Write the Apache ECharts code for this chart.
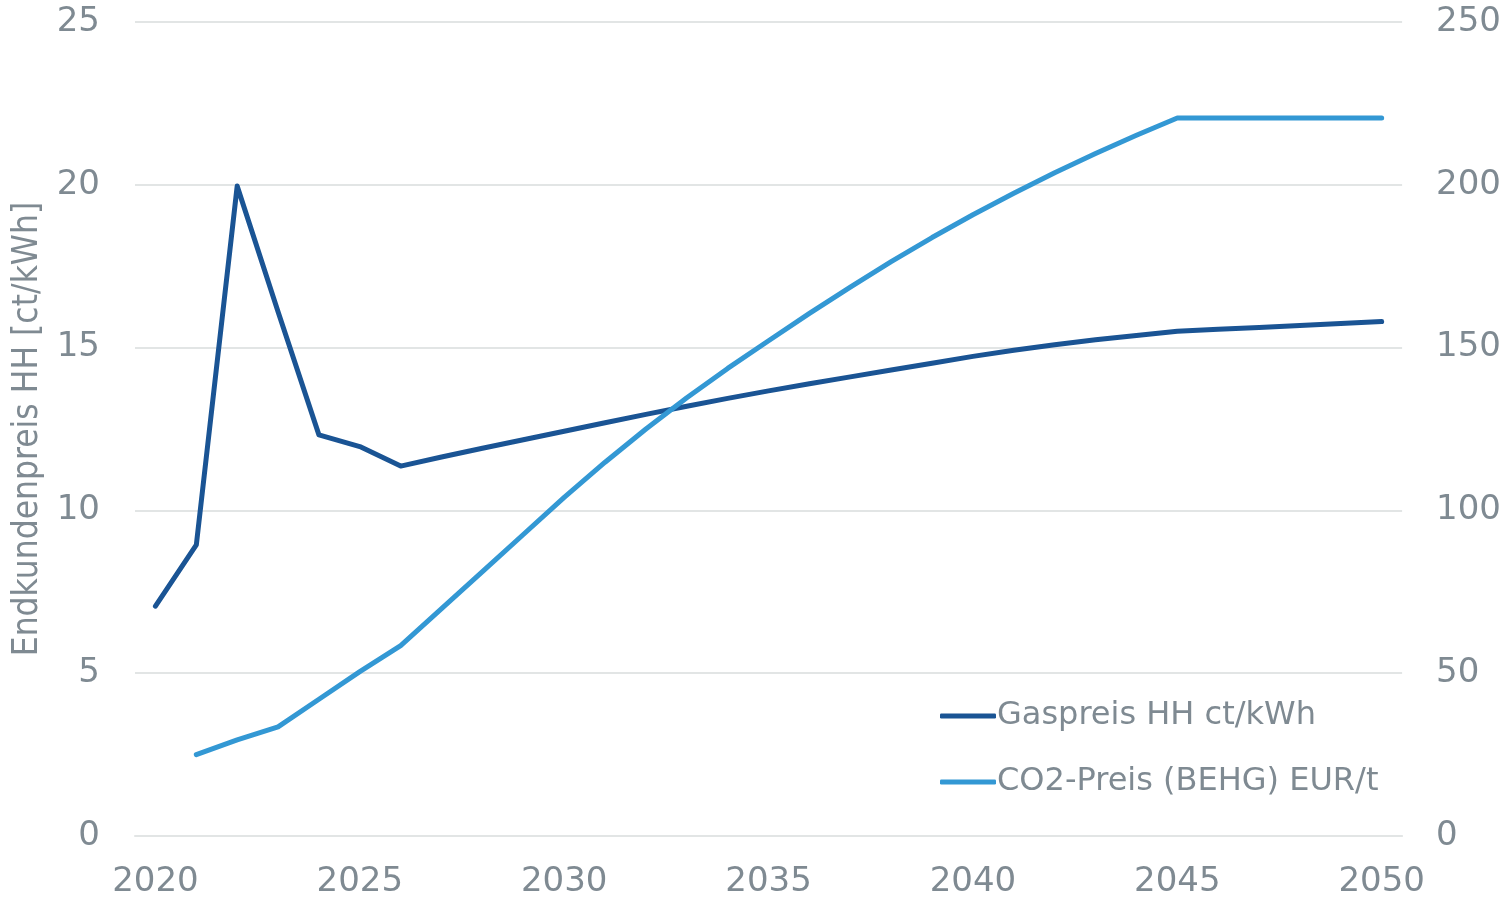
<!DOCTYPE html>
<html>
<head>
<meta charset="utf-8">
<script src="https://cdn.jsdelivr.net/npm/echarts@6/dist/echarts.min.js"></script>
<style>
  html, body { margin: 0; padding: 0; background: #fff; }
  #chart { width: 1504px; height: 899px; }
</style>
</head>
<body>
<div id="chart"></div>
<script>
// Jahre
const years = []
for (let y = 2020; y <= 2050; y++) years.push(String(y))

// Gaspreis HH ct/kWh (linke Achse)
const gasPrice = [7.06, 8.94, 19.96, 16.1, 12.32, 11.96, 11.36, 11.64, 11.91, 12.17, 12.43,
  12.69, 12.95, 13.2, 13.44, 13.67, 13.89, 14.1, 14.31, 14.52, 14.73,
  14.92, 15.09, 15.24, 15.37, 15.5, 15.56, 15.62, 15.68, 15.74, 15.8]

// CO2-Preis (BEHG) EUR/t (rechte Achse), 2020 ohne Wert
const co2Price = [null, 25, 29.5, 33.5, 42, 50.5, 58.5, 69.8, 81.2, 92.6, 104,
  114.8, 125, 134.6, 143.6, 152.1, 160.5, 168.6, 176.4, 183.8, 190.8,
  197.4, 203.7, 209.6, 215.2, 220.5, 220.5, 220.5, 220.5, 220.5, 220.5]

const seriesNames = ['Gaspreis HH ct/kWh', 'CO2-Preis (BEHG) EUR/t']

const grey = '#7f8a92'
const gridColor = '#e2e5e5'
const font = 'DejaVu Sans'

const chart = echarts.init(document.getElementById('chart'))
chart.setOption({
  animation: false,
  grid: { left: 135, right: 101, top: 22, bottom: 63 },
  legend: {
    orient: 'vertical',
    left: 935,
    top: 695,
    itemWidth: 56,
    itemHeight: 5,
    itemGap: 34,
    icon: 'roundRect',
    textStyle: { color: grey, fontSize: 32, fontFamily: font, padding: [0, 0, 0, -4] },
    data: seriesNames
  },
  xAxis: {
    type: 'category',
    data: years,
    boundaryGap: true,
    axisLine: { show: true, lineStyle: { color: gridColor, width: 2 } },
    axisTick: { show: false },
    axisLabel: { interval: 4, color: grey, fontSize: 34, fontFamily: font, margin: 29 }
  },
  yAxis: [{
    type: 'value',
    min: 0, max: 25, interval: 5,
    name: 'Endkundenpreis HH [ct/kWh]',
    nameLocation: 'middle',
    nameGap: 90,
    nameTextStyle: { color: grey, fontSize: 35, fontFamily: 'DejaVu Sans Condensed' },
    axisLine: { show: false },
    axisTick: { show: false },
    axisLabel: { color: grey, fontSize: 34, fontFamily: font, margin: 35 },
    splitLine: { lineStyle: { color: gridColor, width: 2 } }
  }, {
    type: 'value',
    min: 0, max: 250, interval: 50,
    axisLine: { show: false },
    axisTick: { show: false },
    axisLabel: { color: grey, fontSize: 34, fontFamily: font, margin: 34 },
    splitLine: { show: false }
  }],
  series: [{
    name: seriesNames[0],
    type: 'line',
    yAxisIndex: 0,
    data: gasPrice,
    symbol: 'none',
    lineStyle: { color: '#1a5494', width: 5, cap: 'round', join: 'round' },
    itemStyle: { color: '#1a5494' }
  }, {
    name: seriesNames[1],
    type: 'line',
    yAxisIndex: 1,
    data: co2Price,
    symbol: 'none',
    lineStyle: { color: '#3398d4', width: 5, cap: 'round', join: 'round' },
    itemStyle: { color: '#3398d4' }
  }]
})
</script>
</body>
</html>
